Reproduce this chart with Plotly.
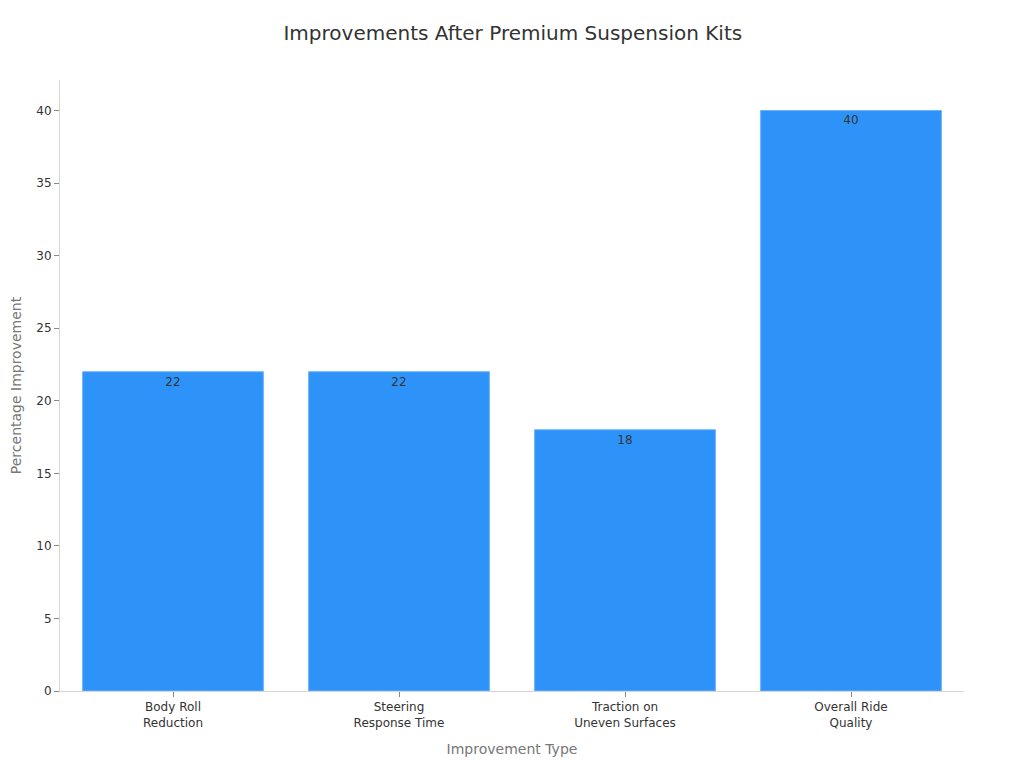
import plotly.graph_objects as go

categories = ["Body Roll<br>Reduction", "Steering<br>Response Time",
              "Traction on<br>Uneven Surfaces", "Overall Ride<br>Quality"]
improvement = [22, 22, 18, 40]

fig = go.Figure()
fig.add_trace(go.Bar(
    x=categories, y=improvement,
    text=improvement, textposition="inside", insidetextanchor="end",
    textfont=dict(size=12, color="#333333"),
    marker=dict(color="#2E93F9", line=dict(color="#6DB3FA", width=1)),
))

# the page adds ~8px of body margin, so margins are pulled in to compensate
fig.update_layout(
    width=1024, height=768,
    template="plotly_white",
    font=dict(family="DejaVu Sans, sans-serif", color="#333333"),
    title=dict(text="Improvements After Premium Suspension Kits", x=0.493, y=0.9674,
               xanchor="center", yanchor="middle", font=dict(size=20, color="#333333")),
    margin=dict(l=52, r=68, t=72, b=85),
    bargap=0.2,
    showlegend=False,
    plot_bgcolor="white",
)
fig.update_xaxes(
    title=dict(text="Improvement Type", font=dict(size=14, color="#777777")),
    showgrid=False, showline=True, linecolor="#d6d6d6", linewidth=1,
    ticks="outside", ticklen=5, tickcolor="#888888",
    tickfont=dict(size=12, color="#333333"), automargin=False,
)
fig.update_yaxes(
    title=dict(text="Percentage Improvement", font=dict(size=14, color="#777777")),
    range=[0, 42.1], dtick=5, showgrid=False, zeroline=False,
    showline=True, linecolor="#d6d6d6", linewidth=1,
    ticks="outside", ticklen=5, tickcolor="#888888",
    tickfont=dict(size=12, color="#333333"), automargin=False,
)

fig.write_html("out.html")
